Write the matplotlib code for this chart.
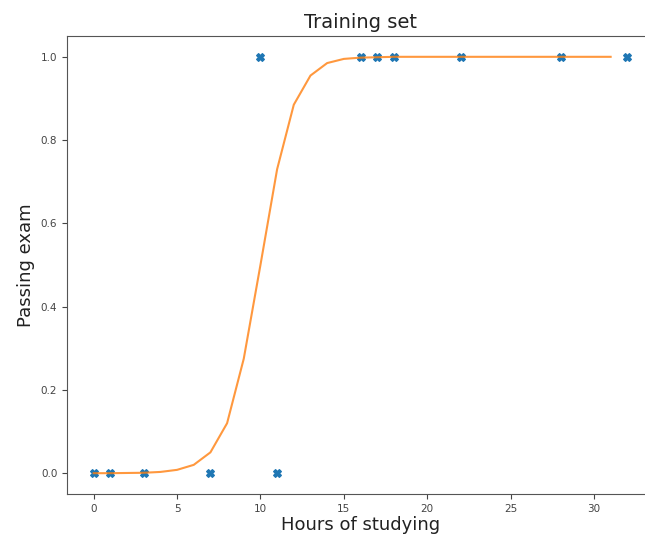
import numpy as np
import matplotlib
matplotlib.use("Agg")
import matplotlib.pyplot as plt

# training points (hours studied, passed or not)
hours = [0, 1, 3, 7, 10, 11, 16, 17, 18, 22, 28, 32]
passed = [0, 0, 0, 0, 1, 0, 1, 1, 1, 1, 1, 1]

curve_x = list(range(0, 32))
curve_y = [0.0, 0.0, 0.0005, 0.001, 0.003, 0.008, 0.02, 0.05, 0.12, 0.275, 0.5,
           0.73, 0.885, 0.955, 0.985, 0.995, 0.998, 0.999, 1.0, 1.0, 1.0, 1.0,
           1.0, 1.0, 1.0, 1.0, 1.0, 1.0, 1.0, 1.0, 1.0, 1.0]

fig = plt.figure(figsize=(6.45, 5.35), dpi=100)
ax = fig.add_axes([67 / 645, 1 - 494 / 535, (654 - 67) / 645, (494 - 36) / 535])

ax.scatter(hours, passed, marker="X", s=30, color="#1f77b4")
ax.plot(curve_x, curve_y, color="#ff7f0e", alpha=0.8, linewidth=1.5)

ax.set_title("Training set", fontsize=14, color="#222222")
ax.set_xlabel("Hours of studying", fontsize=13, labelpad=2, color="#222222")
ax.set_ylabel("Passing exam", fontsize=13, color="#222222")
ax.tick_params(labelsize=7.5, colors="#444444")
for sp in ax.spines.values():
    sp.set_color("#555555")
ax.set_xticks([0, 5, 10, 15, 20, 25, 30])
ax.set_yticks([0.0, 0.2, 0.4, 0.6, 0.8, 1.0])

fig.savefig("out.png", dpi=100)
